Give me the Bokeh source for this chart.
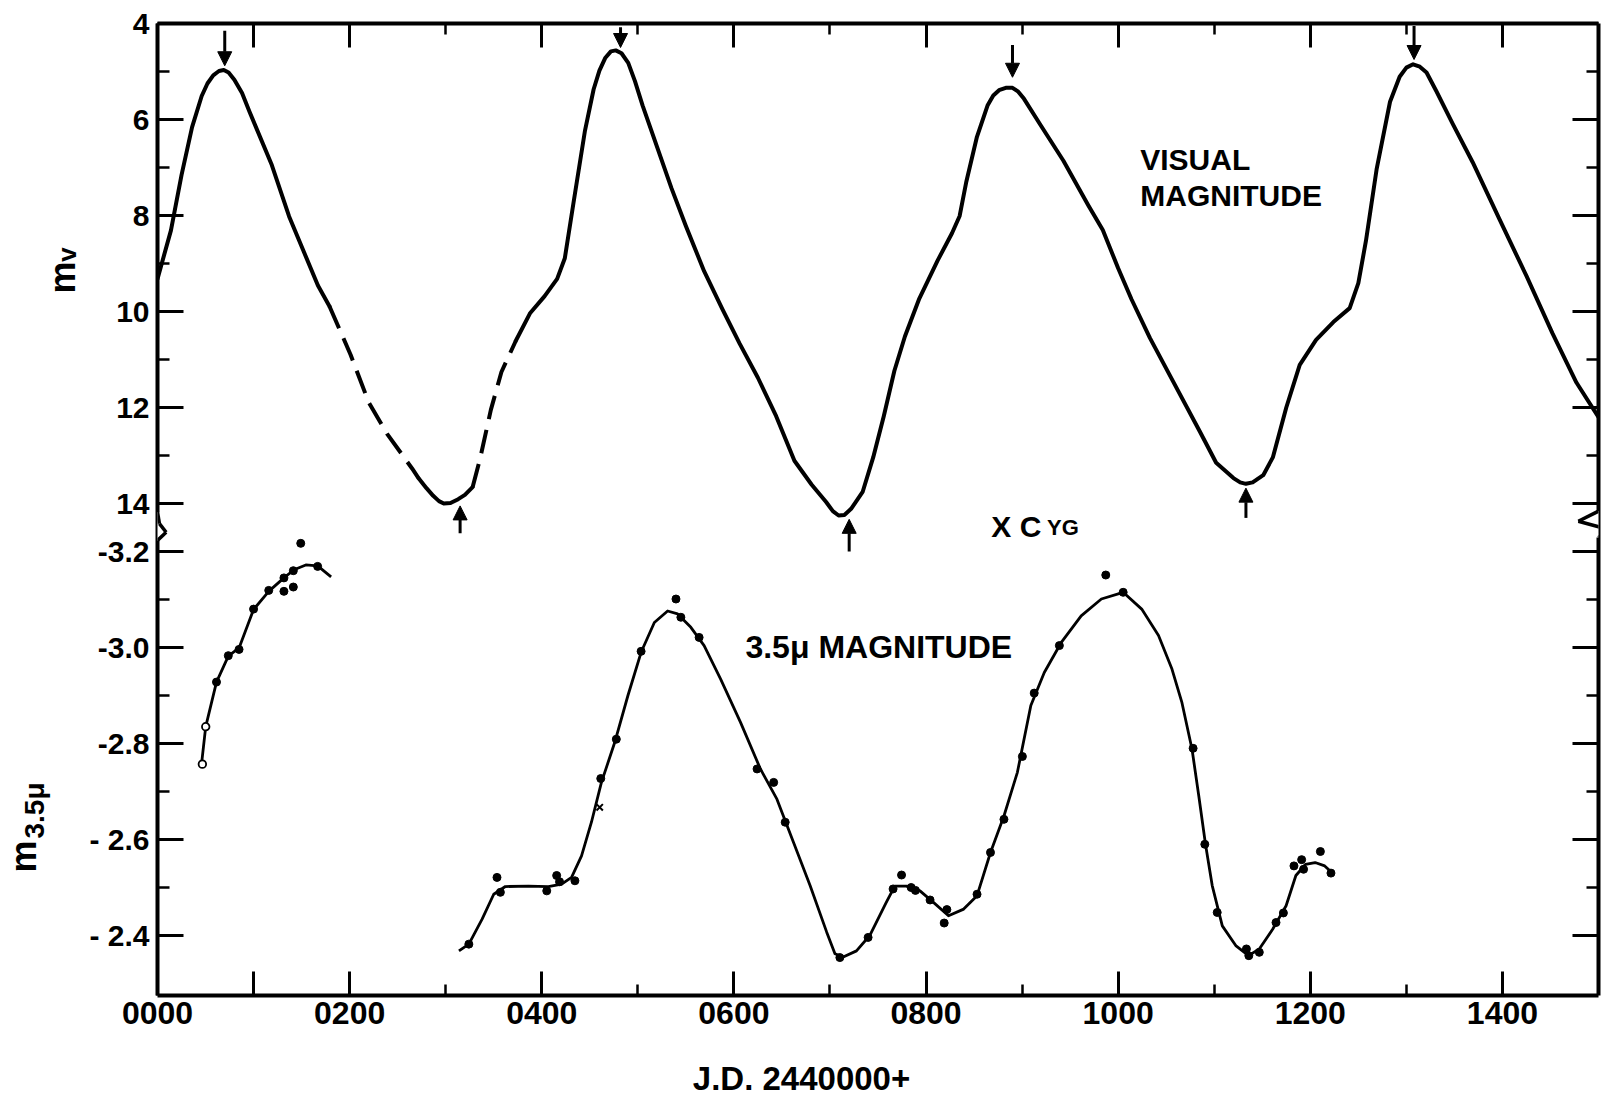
import math
from bokeh.plotting import figure
from bokeh.layouts import row, column
from bokeh.models import Range1d, LinearAxis, FixedTicker, Label, Arrow, NormalHead
from bokeh.core.properties import value
from bokeh.embed import file_html
from bokeh.resources import INLINE

# ---------------- data ----------------
# Visual magnitude (JD 2440000+ days, m_v)
vis_solid1_x = [0, 14, 25, 36, 46, 52, 58, 64, 69, 74, 80, 88, 96, 119, 137, 152, 167, 179]
vis_solid1_m = [9.32, 8.31, 7.16, 6.16, 5.51, 5.25, 5.08, 4.99, 4.97, 5.02, 5.17, 5.45, 5.85,
                6.95, 8.02, 8.74, 9.46, 9.89]
vis_dash1_x = [179, 201, 220, 239, 265, 272]
vis_dash1_m = [9.89, 10.9, 11.9, 12.55, 13.27, 13.48]
vis_solid2_x = [272, 280, 287, 293, 298, 305, 313, 320, 328]
vis_solid2_m = [13.48, 13.68, 13.84, 13.95, 14.0, 13.99, 13.91, 13.82, 13.66]
vis_dash2_x = [328, 336, 347, 358, 373]
vis_dash2_m = [13.66, 13.05, 12.05, 11.26, 10.61]
vis_solid3_x = [373, 388, 403, 416, 424, 433, 445, 454, 460, 466, 472, 477, 483, 490, 497, 505,
                520, 535, 550, 569, 588, 606, 625, 644, 663, 681, 696, 703, 709, 715, 722, 734,
                745, 756, 767, 778, 793, 812, 827, 835, 842, 853, 864, 870, 876, 883, 890, 896,
                902, 920, 943, 969, 984, 1000, 1014, 1033, 1057, 1085, 1102, 1120, 1127, 1133,
                1140, 1151, 1161, 1175, 1189, 1206, 1224, 1241, 1250, 1258, 1269, 1283, 1293,
                1300, 1307, 1314, 1321, 1331, 1348, 1369, 1397, 1425, 1452, 1477, 1500]
vis_solid3_m = [10.61, 10.03, 9.68, 9.32, 8.89, 7.74, 6.23, 5.37, 4.98, 4.72, 4.58, 4.56, 4.62,
                4.82, 5.2, 5.71, 6.57, 7.43, 8.22, 9.16, 9.95, 10.67, 11.38, 12.18, 13.11, 13.61,
                13.97, 14.16, 14.25, 14.24, 14.11, 13.76, 13.04, 12.18, 11.24, 10.52, 9.73, 8.94,
                8.37, 8.01, 7.29, 6.36, 5.71, 5.50, 5.39, 5.34, 5.34, 5.42, 5.57, 6.14, 6.86,
                7.79, 8.3, 9.1, 9.75, 10.55, 11.45, 12.5, 13.15, 13.47, 13.56, 13.59, 13.56,
                13.41, 13.04, 12.0, 11.11, 10.59, 10.22, 9.93, 9.41, 8.52, 7.04, 5.63, 5.11,
                4.92, 4.85, 4.9, 5.02, 5.4, 6.08, 6.89, 8.08, 9.26, 10.45, 11.48, 12.2]

# maxima (down arrows) and minima (up arrows): x, tail, tip  (m_v units)
max_arrow_x = [70, 482, 890, 1308]
max_arrow_tail = [4.15, 4.08, 4.45, 4.05]
max_arrow_tip = [4.88, 4.5, 5.12, 4.75]
min_arrow_x = [315, 720, 1133]
min_arrow_tail = [14.62, 15.0, 14.3]
min_arrow_tip = [14.05, 14.33, 13.68]

# 3.5 micron magnitude: drawn curves
ir_curve1_x = [45.6, 50.2, 61.4, 73.7, 84.9, 100, 115.8, 131.6, 142.1, 154.4, 166.7, 180.7]
ir_curve1_m = [-2.753, -2.835, -2.928, -2.982, -2.999, -3.079, -3.117, -3.145, -3.162, -3.172,
               -3.170, -3.147]
ir_curve2_x = [313.8, 324.1, 337.9, 350, 362.1, 386.2, 406.9, 420.7, 431, 441.4, 451.7, 462.1,
               475.9, 489.7, 503.4, 517.2, 531, 541.4, 555.2, 569, 586.2, 606.9, 627.6, 644.8,
               662.1, 679.3, 696.6, 705.2, 713.8, 727.6, 741.4, 758.6, 767.5, 779.7, 793.7,
               807.7, 823.4, 839.2, 853.1, 867.1, 881.1, 895.1, 909.1, 923.1, 940.6, 961.5,
               982.5, 1005.2, 1024.5, 1042, 1056, 1066.4, 1076.9, 1083.9, 1090.9, 1097.9,
               1108.4, 1122.4, 1135.7, 1146.9, 1160.8, 1174.8, 1185, 1195, 1205, 1215, 1223]
ir_curve2_m = [-2.368, -2.382, -2.434, -2.486, -2.502, -2.503, -2.502, -2.507, -2.521, -2.566,
               -2.636, -2.719, -2.802, -2.900, -2.990, -3.052, -3.076, -3.070, -3.042, -3.004,
               -2.934, -2.844, -2.747, -2.684, -2.594, -2.504, -2.407, -2.362, -2.355, -2.368,
               -2.400, -2.469, -2.503, -2.503, -2.493, -2.469, -2.441, -2.455, -2.483, -2.573,
               -2.649, -2.740, -2.879, -2.948, -3.010, -3.066, -3.101, -3.115, -3.080, -3.025,
               -2.955, -2.885, -2.788, -2.691, -2.590, -2.504, -2.420, -2.379, -2.358, -2.372,
               -2.413, -2.462, -2.525, -2.548, -2.552, -2.545, -2.530]

# 3.5 micron observations
ir_dot_x = [61.4, 73.7, 84.9, 100, 115.8, 131.6, 141.4, 131.6, 141.4, 149.1, 166.7,
            324.1, 353.4, 356.9, 405.2, 415.5, 418.5, 434.5, 461.4, 477.6, 503.4, 539.7, 544.8,
            563.8, 624.1, 641.4, 653.4, 710.3, 739.7, 765.7, 774.5, 784.5, 789, 804.2, 821.7,
            818.9, 853.1, 867.1, 881.1, 900.3, 912.6, 938.8, 987.1, 1005.2, 1078, 1090.2,
            1103.1, 1133.5, 1136, 1146.9, 1164.3, 1172, 1183, 1191, 1193, 1210.5, 1221.5]
ir_dot_m = [-2.928, -2.983, -2.996, -3.080, -3.119, -3.145, -3.160, -3.117, -3.126, -3.217,
            -3.169, -2.382, -2.521, -2.490, -2.493, -2.525, -2.512, -2.514, -2.727, -2.809,
            -2.992, -3.101, -3.063, -3.021, -2.747, -2.719, -2.636, -2.354, -2.396, -2.497,
            -2.526, -2.500, -2.494, -2.474, -2.454, -2.426, -2.486, -2.573, -2.642, -2.773,
            -2.905, -3.004, -3.151, -3.115, -2.790, -2.590, -2.448, -2.372, -2.358, -2.365,
            -2.427, -2.447, -2.545, -2.558, -2.538, -2.575, -2.530]
ir_open_x = [46.7, 50.2]
ir_open_m = [-2.757, -2.835]
ir_cross_x = [460.3]
ir_cross_m = [-2.667]

# axes ticks and labels
x_major = [0, 100, 200, 400, 600, 800, 1000, 1200, 1400]
x_minor = [300, 500, 700, 900, 1100, 1300]
x_labels = ["0000", "", "0200", "0400", "0600", "0800", "1000", "1200", "1400"]
mv_major = [4, 6, 8, 10, 12, 14]
mv_minor = [5, 7, 9, 11, 13]
mv_labels = ["4", "6", "8", "10", "12", "14"]
ir_major = [-3.2, -3.0, -2.8, -2.6, -2.4]
ir_minor = [-3.1, -2.9, -2.7, -2.5]
ir_labels = ["-3.2", "-3.0", "-2.8", "- 2.6", "- 2.4"]

# ---------------- layout constants ----------------
FONT = "Liberation Sans"
W, H = 1610, 1099
LW = 84          # strip on the left holding the y-axis titles
XH = 50          # strip at the bottom holding the x-axis title
FRAME_TOP, FRAME_BOTTOM = 23, 995
MV_TOP, MV_BOTTOM = 4.0, 24.25
IR_TOP, IR_BOTTOM = -4.3, -2.275

p = figure(width=W - LW, height=H - XH, output_backend="svg", toolbar_location=None,
           x_range=Range1d(0, 1500), y_range=Range1d(MV_BOTTOM, MV_TOP),
           x_axis_location=None, y_axis_location=None,
           min_border_left=157 - LW, min_border_right=12, min_border_top=FRAME_TOP,
           min_border_bottom=H - XH - FRAME_BOTTOM)
p.extra_y_ranges = {"ir": Range1d(IR_BOTTOM, IR_TOP)}
p.outline_line_color = None
p.background_fill_color = "white"
p.border_fill_color = "white"
for g in p.grid:
    g.visible = False


def ir_to_axis(m):
    # position of a 3.5-micron value on the shared vertical axis scale
    return round(MV_TOP + (m - IR_TOP) / (IR_BOTTOM - IR_TOP) * (MV_BOTTOM - MV_TOP), 6)


y_major = mv_major + [ir_to_axis(v) for v in ir_major]
y_minor = mv_minor + [ir_to_axis(v) for v in ir_minor]
y_over = {float(t): lab for t, lab in zip(y_major, mv_labels + ir_labels)}


def make_axis(major, minor, overrides, tick_in, minor_in, size):
    ax = LinearAxis(ticker=FixedTicker(ticks=major, minor_ticks=minor))
    ax.axis_line_width = 4
    ax.axis_line_color = "black"
    ax.major_tick_in = tick_in
    ax.major_tick_out = 0
    ax.minor_tick_in = minor_in
    ax.minor_tick_out = 0
    ax.major_tick_line_width = 3
    ax.minor_tick_line_width = 2.5
    ax.major_label_overrides = overrides
    ax.major_label_text_font = FONT
    ax.major_label_text_font_style = "bold"
    ax.major_label_text_font_size = size
    ax.major_label_text_color = "black"
    ax.major_label_standoff = 8
    return ax


left = make_axis(y_major, y_minor, y_over, 26, 12, "30px")
right = make_axis(y_major, y_minor, {float(t): "" for t in y_major}, 26, 12, "30px")
bottom = make_axis(x_major, x_minor, {float(t): l for t, l in zip(x_major, x_labels)}, 24, 11, "32px")
bottom.major_label_standoff = 6
top = make_axis(x_major, x_minor, {float(t): "" for t in x_major}, 24, 11, "32px")
p.add_layout(left, "left")
p.add_layout(right, "right")
p.add_layout(bottom, "below")
p.add_layout(top, "above")

# ---------------- visual magnitude curve ----------------
for xs, ys in [(vis_solid1_x, vis_solid1_m), (vis_solid2_x, vis_solid2_m), (vis_solid3_x, vis_solid3_m)]:
    p.line(xs, ys, line_width=4, line_color="black", line_join="round", line_cap="round")
for xs, ys in [(vis_dash1_x, vis_dash1_m), (vis_dash2_x, vis_dash2_m)]:
    p.line(xs, ys, line_width=4, line_color="black", line_dash="24 11", line_join="round")

# ---------------- 3.5 micron curve ----------------
for xs, ys in [(ir_curve1_x, ir_curve1_m), (ir_curve2_x, ir_curve2_m)]:
    p.line(xs, ys, y_range_name="ir", line_width=2.8, line_color="black", line_join="round")
p.scatter(ir_dot_x, ir_dot_m, y_range_name="ir", size=8, marker="circle",
          fill_color="black", line_color="black")
p.scatter(ir_open_x, ir_open_m, y_range_name="ir", size=7.5, marker="circle",
          fill_color="white", line_color="black", line_width=1.8)
p.scatter(ir_cross_x, ir_cross_m, y_range_name="ir", size=9, marker="x",
          line_color="black", line_width=2)

# ---------------- arrows at maxima / minima ----------------
for xa, t0, t1 in zip(max_arrow_x + min_arrow_x, max_arrow_tail + min_arrow_tail,
                      max_arrow_tip + min_arrow_tip):
    p.add_layout(Arrow(x_start=xa, y_start=t0, x_end=xa, y_end=t1, line_width=3,
                       line_color="black",
                       end=NormalHead(size=14, fill_color="black", line_color="black", line_width=1)))

# ---------------- axis breaks (zig-zag) ----------------
x0, x1 = p.x_range.start, p.x_range.end
breaks = [
    (x0, [(x0, 14.18), (x0 + 2, 14.42), (x0 + 9, 14.6), (x0, 14.77)]),
    (x1, [(x1, 14.16), (x1 - 21, 14.37), (x1 + 10, 14.54), (x1, 14.71)]),
]
for xe, pts in breaks:
    p.add_layout(Arrow(x_start=xe, y_start=pts[0][1], x_end=xe, y_end=pts[-1][1], end=None,
                       line_color="white", line_width=9))
    for (a, b), (c, d) in zip(pts[:-1], pts[1:]):
        p.add_layout(Arrow(x_start=a, y_start=b, x_end=c, y_end=d, end=None,
                           line_color="black", line_width=3.5))


# ---------------- texts inside the frame (y = vertical centre of the capitals) ----------------
def txt(x, y, s, size, rng="default"):
    kw = dict(x=x, y=y, text=s, text_font=FONT, text_font_style="bold", text_font_size=size,
              text_color="black", text_align="left", text_baseline="middle")
    if rng != "default":
        kw["y_range_name"] = rng
    p.add_layout(Label(**kw))


txt(1023, 6.84, "VISUAL", "30px")
txt(1023, 7.59, "MAGNITUDE", "30px")
txt(868, 14.47, "X C", "30px")
txt(926, 14.50, "YG", "22px")
txt(612, -3.002, "3.5μ MAGNITUDE", "32px", rng="ir")


def strip(width, height, y_top, y_bottom):
    f = figure(width=width, height=height, output_backend="svg", toolbar_location=None,
               x_range=Range1d(0, width), y_range=Range1d(y_bottom, y_top),
               x_axis_location=None, y_axis_location=None,
               min_border_left=0, min_border_right=0, min_border_top=0, min_border_bottom=0)
    f.outline_line_color = None
    f.background_fill_color = "white"
    f.border_fill_color = "white"
    for g in f.grid:
        g.visible = False
    return f


# ---------------- y-axis titles (strip left of the plot; its frame lines up with the plot frame) ----
lab = strip(LW, H - XH, FRAME_TOP, FRAME_BOTTOM)
ytitle_x = [62, 66, 23, 34]
ytitle_y = [277, 254, 856, 810]
ytitle_text = ["m", "v", "m", "3.5μ"]
ytitle_size = ["36px", "26px", "36px", "28px"]
for xx, yy, tt, ss in zip(ytitle_x, ytitle_y, ytitle_text, ytitle_size):
    lab.text(x=[xx], y=[yy], text=[tt], angle=math.pi / 2, text_font=value(FONT),
             text_font_style="bold", text_font_size=ss, text_color="black",
             text_align="center", text_baseline="alphabetic")

# ---------------- x-axis title (strip below the plot) ----------------
xlab = strip(W, XH, H - XH, H)
xlab.text(x=[801], y=[1078], text=["J.D. 2440000+"], text_font=value(FONT),
          text_font_style="bold", text_font_size="33px", text_color="black",
          text_align="center", text_baseline="middle")

layout = column(row(lab, p), xlab)
open("out.html", "w").write(file_html(layout, INLINE))
